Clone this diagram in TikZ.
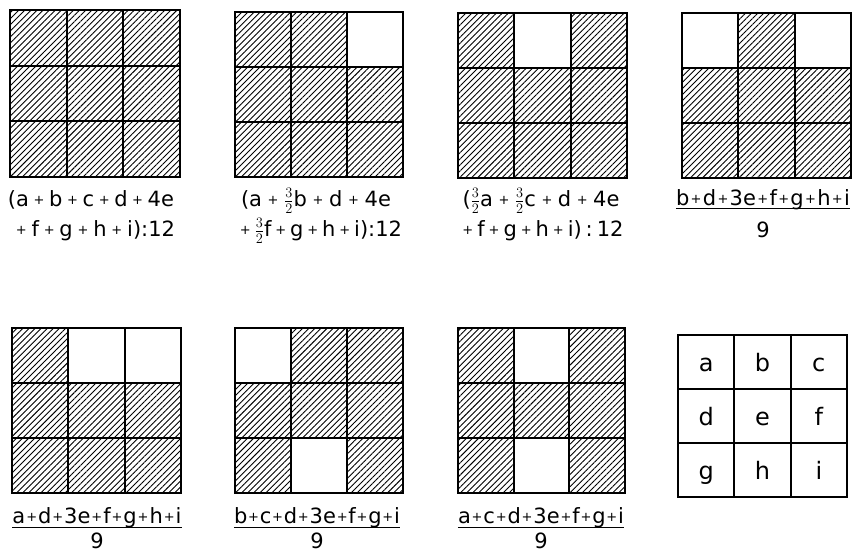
\documentclass[tikz,border=0pt]{standalone}
\usepackage{fontspec}
\setmainfont{DejaVu Sans}
\usetikzlibrary{patterns.meta}
\newcommand\pl{\hfil\raisebox{1.8pt}{\fontsize{13}{13}\selectfont+}\hfil}
\newcommand\tht{\ensuremath{\textstyle\frac{3}{2}}}
\newcommand\spread[2]{\makebox[#1pt][s]{#2}}
\newcommand\hgrid[5]{%
  \fill[pattern={Lines[angle=45,distance=4.3pt,line width=.9pt]}] (#1,#2) rectangle (#3,#4);
  \pgfmathsetmacro\gw{(#3-#1)/3}\pgfmathsetmacro\gh{(#4-#2)/3}%
  \foreach \k in {#5}{%
    \ifnum\k>0
      \pgfmathsetmacro\cc{mod(\k-1,3)}\pgfmathsetmacro\rr{int((\k-1)/3)}%
      \fill[white] ({#1+\cc*\gw},{#2+\rr*\gh}) rectangle ++(\gw,\gh);
    \fi}
  \draw[inner] ({#1+\gw},#2) -- ({#1+\gw},#4) ({#1+2*\gw},#2) -- ({#1+2*\gw},#4)
               (#1,{#2+\gh}) -- (#3,{#2+\gh}) (#1,{#2+2*\gh}) -- (#3,{#2+2*\gh});
  \draw[outer] (#1,#2) rectangle (#3,#4);
}
\begin{document}
\begin{tikzpicture}[x=1pt,y=-1pt,
  inner/.style={line width=1.7pt},
  outer/.style={line width=1.9pt},
  lab/.style={inner sep=0pt,anchor=base,font=\fontsize{21}{24}\selectfont},
  keyl/.style={inner sep=0pt,anchor=base,font=\fontsize{24}{26}\selectfont},
  uline/.style={line width=1pt}]
\useasboundingbox[fill=white] (0,0) rectangle (853,552);
% row 1
\hgrid{10}{10}{180}{177}{0}
\hgrid{235}{12}{403}{177}{3}
\hgrid{458}{13}{627}{178}{2}
\hgrid{682}{13}{851}{178}{1,3}
% row 2
\hgrid{12}{328}{181}{493}{2,3}
\hgrid{235}{328}{403}{493}{1,8}
\hgrid{458}{328}{625}{493}{2,8}
% key
\hgrid{678}{335}{847}{497}{1,2,3,4,5,6,7,8,9}
\foreach \t [count=\i from 0] in {a,b,c,d,e,f,g,h,i}{
  \pgfmathsetmacro\cx{678+(mod(\i,3)+0.5)*169/3}
  \pgfmathsetmacro\cy{335+(int(\i/3)+0.5)*162/3+9}
  \node[keyl] (k\t) at (\cx,\cy) {\t};
}
% labels row 1
\node[lab] (l1a) at (91,206) {\spread{166}{(a\pl b\pl c\pl d\pl 4e}};
\node[lab] (l1b) at (93,236) {\spread{164}{\pl f\pl g\pl h\pl i):12}};
\node[lab] (l2a) at (316,206) {\spread{150}{(a\pl\tht b\pl d\pl 4e}};
\node[lab] (l2b) at (319,236) {\spread{166}{\pl\tht f\pl g\pl h\pl i):12}};
\node[lab] (l3a) at (541,206) {\spread{157}{(\tht a\pl\tht c\pl d\pl 4e}};
\node[lab] (l3b) at (541,236) {\spread{165}{\pl f\pl g\pl h\pl i)\hfil:\hfil 12}};
\node[lab] (n4) at (763,205) {\spread{174}{b\pl d\pl 3e\pl f\pl g\pl h\pl i}};
\draw[uline] ([yshift=-3pt]n4.base west) -- ([yshift=-3pt]n4.base east);
\node[lab] (d4) at (763,237) {9};
% labels row 2
\node[lab] (n5) at (97,523) {\spread{169}{a\pl d\pl 3e\pl f\pl g\pl h\pl i}};
\draw[uline] ([yshift=-4pt]n5.base west) -- ([yshift=-4pt]n5.base east);
\node[lab] (d5) at (97,548) {9};
\node[lab] (n6) at (317,523) {\spread{166}{b\pl c\pl d\pl 3e\pl f\pl g\pl i}};
\draw[uline] ([yshift=-4pt]n6.base west) -- ([yshift=-4pt]n6.base east);
\node[lab] (d6) at (317,548) {9};
\node[lab] (n7) at (541,523) {\spread{166}{a\pl c\pl d\pl 3e\pl f\pl g\pl i}};
\draw[uline] ([yshift=-4pt]n7.base west) -- ([yshift=-4pt]n7.base east);
\node[lab] (d7) at (541,548) {9};
\end{tikzpicture}
\end{document}
